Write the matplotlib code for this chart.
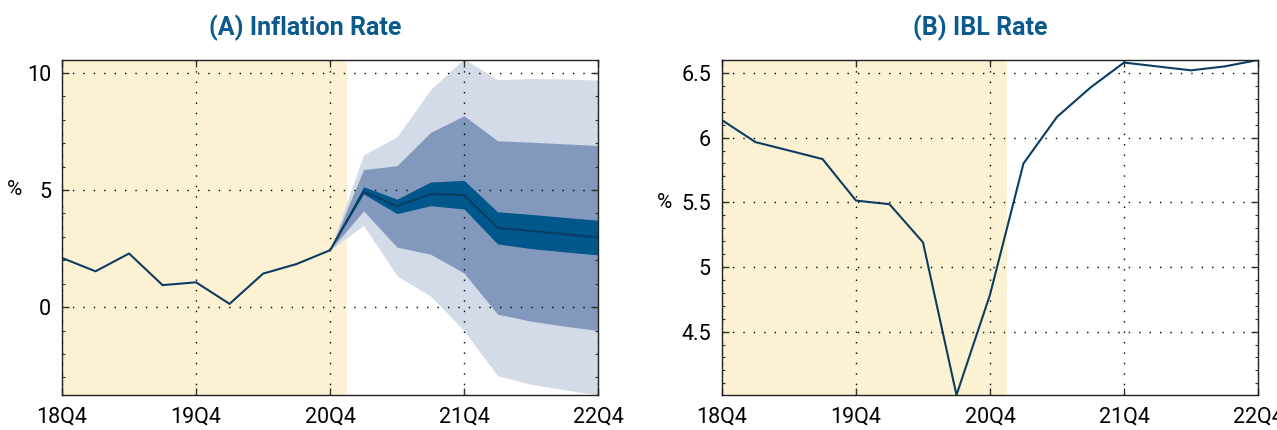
import matplotlib.pyplot as plt
from matplotlib.ticker import MultipleLocator
import numpy as np

# quarters 18Q4 .. 22Q4
quarters = ['18Q4', '19Q1', '19Q2', '19Q3', '19Q4', '20Q1', '20Q2', '20Q3', '20Q4',
            '21Q1', '21Q2', '21Q3', '21Q4', '22Q1', '22Q2', '22Q3', '22Q4']
tick_labels = ['18Q4', '19Q4', '20Q4', '21Q4', '22Q4']

# inflation history (18Q4..20Q4) and forecast (20Q4..22Q4)
infl_hist = [2.10, 1.53, 2.29, 0.94, 1.06, 0.14, 1.43, 1.84, 2.43]
infl_med = [2.43, 4.93, 4.31, 4.83, 4.79, 3.39, 3.25, 3.12, 2.97]
band_in_lo = [2.43, 4.83, 3.99, 4.33, 4.19, 2.70, 2.50, 2.36, 2.23]
band_in_hi = [2.43, 5.14, 4.61, 5.34, 5.41, 4.07, 3.96, 3.83, 3.71]
band_mid_lo = [2.43, 4.11, 2.56, 2.26, 1.46, -0.30, -0.60, -0.81, -1.00]
band_mid_hi = [2.43, 5.87, 6.04, 7.46, 8.17, 7.10, 7.04, 6.97, 6.90]
band_out_lo = [2.43, 3.49, 1.34, 0.47, -1.00, -2.93, -3.29, -3.53, -3.74]
band_out_hi = [2.43, 6.50, 7.27, 9.29, 10.60, 9.71, 9.76, 9.74, 9.69]

# IBL rate 18Q4..22Q4
ibl = [6.135, 5.965, 5.90, 5.834, 5.513, 5.485, 5.19, 4.01, 4.785,
       5.80, 6.16, 6.387, 6.58, 6.55, 6.52, 6.55, 6.60]

x_all = np.arange(len(quarters))
x_hist = x_all[:9]
x_fc = x_all[8:]
tick_pos = [quarters.index(t) for t in tick_labels]

shade = '#fdf1d3'
line_col = '#0b3d62'
title_col = '#0b5a8e'
plt.rcParams['font.family'] = ['Roboto', 'DejaVu Sans']

fig = plt.figure(figsize=(12.77, 4.30), dpi=100)
ax1 = fig.add_axes([0.0486, 0.0814, 0.4197, 0.7791])
ax2 = fig.add_axes([0.5654, 0.0814, 0.4197, 0.7791])

# panel A
ax1.axvspan(0, 8.5, color=shade, lw=0, zorder=0)
ax1.fill_between(x_fc, band_out_lo, band_out_hi, color='#d3dae8', lw=0, zorder=1)
ax1.fill_between(x_fc, band_mid_lo, band_mid_hi, color='#8299bd', lw=0, zorder=2)
ax1.fill_between(x_fc, band_in_lo, band_in_hi, color='#00578b', lw=0, zorder=3)
ax1.plot(x_fc, infl_med, color=line_col, lw=1.5, zorder=4)
ax1.plot(x_hist, infl_hist, color=line_col, lw=1.5, zorder=4)
ax1.set_ylim(-3.75, 10.55)
ax1.yaxis.set_major_locator(MultipleLocator(5))
ax1.yaxis.set_minor_locator(MultipleLocator(1))

# panel B
ax2.axvspan(0, 8.5, color=shade, lw=0, zorder=0)
ax2.plot(x_all, ibl, color=line_col, lw=1.5, zorder=4)
ax2.set_ylim(4.01, 6.6)
ax2.set_yticks([4.5, 5, 5.5, 6, 6.5])
ax2.set_yticklabels(['4.5', '5', '5.5', '6', '6.5'])
ax2.yaxis.set_minor_locator(MultipleLocator(0.1))

for ax in (ax1, ax2):
    ax.set_xlim(0, 16)
    ax.set_xticks(tick_pos)
    ax.set_xticklabels(tick_labels)
    ax.grid(True, which='major', color='black', linestyle=(0, (1, 6.5)), lw=1.0, zorder=5)
    ax.set_axisbelow(False)
    ax.tick_params(which='both', direction='in', top=True, right=True, labelsize=15.5,
                   pad=8, color='#333333')
    ax.tick_params(which='major', length=5, width=1)
    ax.tick_params(which='minor', length=2.5, width=0.8)
    ax.tick_params(axis='x', which='minor', top=False, bottom=False)
    for s in ax.spines.values():
        s.set_linewidth(1.0)
        s.set_color('#222222')
        s.set_zorder(6)

ax1.set_ylabel('%', rotation=0, fontsize=15, va='center', ha='center')
ax1.yaxis.set_label_coords(-0.088, 0.612)
ax2.set_ylabel('%', rotation=0, fontsize=15, va='center', ha='center')
ax2.yaxis.set_label_coords(-0.108, 0.576)

fig.text(0.239, 0.935, '(A) Inflation Rate', ha='center', va='center',
         fontsize=18, fontweight='bold', color=title_col)
fig.text(0.768, 0.935, '(B) IBL Rate', ha='center', va='center',
         fontsize=18, fontweight='bold', color=title_col)

fig.savefig('out.png', dpi=100)
